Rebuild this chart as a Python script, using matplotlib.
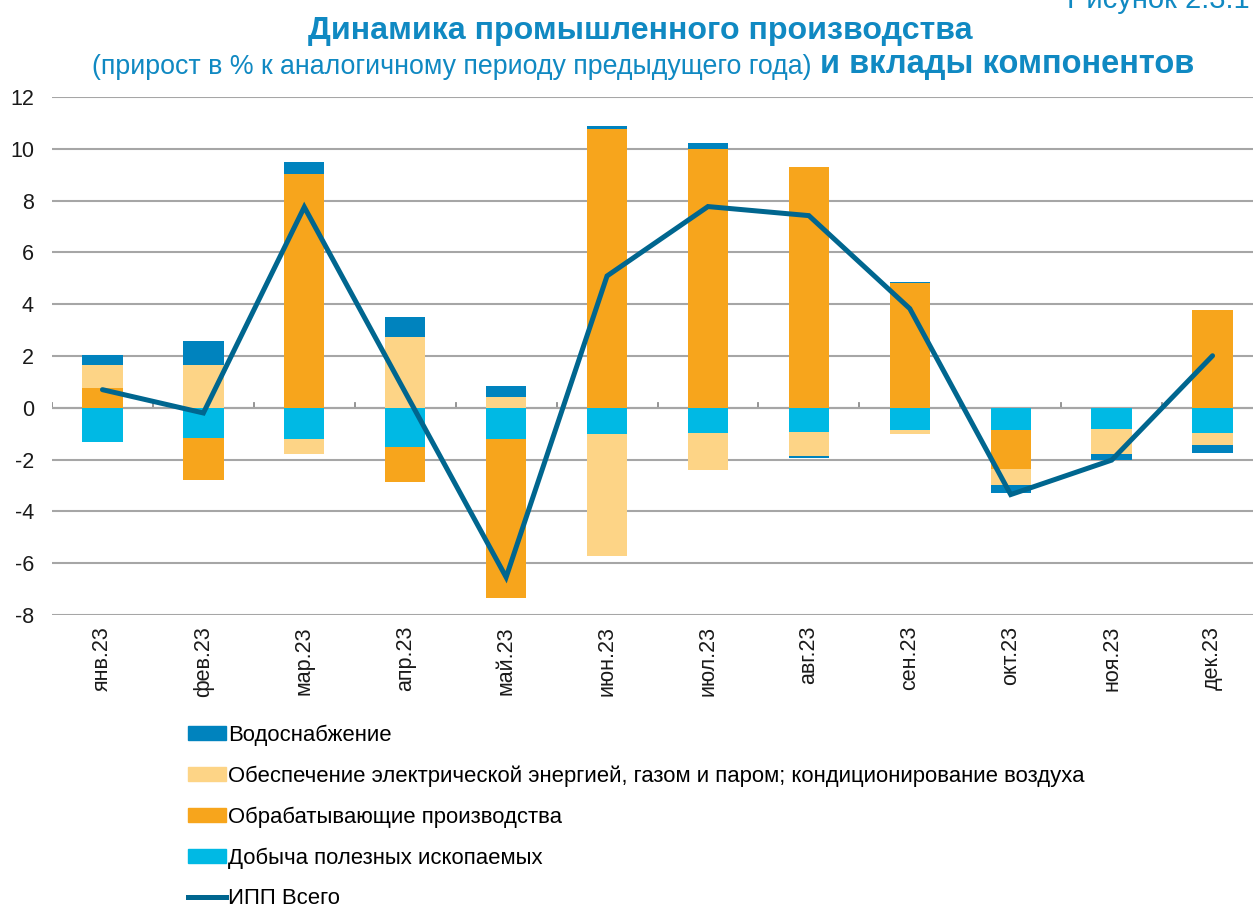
import numpy as np
import matplotlib
matplotlib.use("Agg")
import matplotlib.pyplot as plt
from matplotlib.patches import Patch
from matplotlib.lines import Line2D

plt.rcParams['font.family'] = ['Liberation Sans', 'DejaVu Sans']
plt.rcParams['axes.unicode_minus'] = False

# ===============================
# Data (contributions, p.p.)
# ===============================

months = ['янв.23', 'фев.23', 'мар.23', 'апр.23', 'май.23', 'июн.23',
          'июл.23', 'авг.23', 'сен.23', 'окт.23', 'ноя.23', 'дек.23']

mining = [-1.32, -1.16, -1.22, -1.50, -1.22, -1.02, -0.96, -0.93, -0.86, -0.85, -0.81, -0.96]
manuf = [0.77, -1.63, 9.01, -1.38, -6.12, 10.76, 9.98, 9.28, 4.80, -1.50, 0.0, 3.76]
elec = [0.90, 1.67, -0.57, 2.75, 0.40, -4.72, -1.46, -0.92, -0.16, -0.62, -0.97, -0.46]
water = [0.36, 0.89, 0.48, 0.74, 0.44, 0.11, 0.23, -0.07, 0.04, -0.33, -0.25, -0.33]
ipp_total = [0.70, -0.20, 7.75, 0.60, -6.54, 5.09, 7.77, 7.42, 3.83, -3.35, -2.02, 2.01]

series = [
    ('Добыча полезных ископаемых', mining, '#00B9E4'),
    ('Обрабатывающие производства', manuf, '#F7A51C'),
    ('Обеспечение электрической энергией, газом и паром; кондиционирование воздуха', elec, '#FDD486'),
    ('Водоснабжение', water, '#0083BE'),
]

title_color = '#1089C2'
line_color = '#00668F'

# ===============================
# Plot
# ===============================

fig = plt.figure(figsize=(12.53, 9.07), dpi=100)
ax = fig.add_axes([52 / 1253, 1 - 615 / 907, 1211 / 1253, 518 / 907])

x = np.arange(len(months))
pos_bottom = np.zeros(len(months))
neg_bottom = np.zeros(len(months))

for name, vals, color in series:
    v = np.array(vals)
    bottom = np.where(v >= 0, pos_bottom, neg_bottom)
    ax.bar(x, v, width=0.40, bottom=bottom, color=color, linewidth=0, zorder=2)
    pos_bottom = pos_bottom + np.where(v > 0, v, 0)
    neg_bottom = neg_bottom + np.where(v < 0, v, 0)

ax.plot(x, ipp_total, color=line_color, linewidth=3.6, zorder=4,
        solid_joinstyle='miter', solid_capstyle='round')

ax.set_xlim(-0.5, len(months) - 0.5)
ax.set_ylim(-8, 12)
ax.set_yticks(np.arange(-8, 13, 2))
ax.grid(axis='y', color='#A6A6A6', linewidth=1.5, zorder=0)
ax.axhline(0, color='#8C8C8C', linewidth=1.5, zorder=1)

# small ticks on zero line between categories
for b in np.arange(-0.5, len(months), 1.0):
    ax.plot([b, b], [0, 0.17], color='#8C8C8C', linewidth=1.3, zorder=1)

for s in ax.spines.values():
    s.set_visible(False)

ax.set_xticks(x)
ax.set_xticklabels(months, rotation=90, fontsize=15.5, color='#1A1A1A')
ax.tick_params(axis='x', length=0, pad=8)
ax.tick_params(axis='y', length=0, pad=13, labelsize=15.5, labelcolor='#1A1A1A')

# ===============================
# Titles
# ===============================

fig.text(640 / 1253, 1 - 31 / 907, 'Динамика промышленного производства',
         ha='center', va='center', fontsize=23.1, fontweight='bold', color=title_color)
fig.text(812 / 1253, 1 - 67 / 907, '(прирост в % к аналогичному периоду предыдущего года)',
         ha='right', va='center', fontsize=19.3, color=title_color)
fig.text(820 / 1253, 1 - 65 / 907, 'и вклады компонентов',
         ha='left', va='center', fontsize=23.5, fontweight='bold', color=title_color)
fig.text(1250 / 1253, 1 - 8 / 907, 'Рисунок 2.3.1', ha='right', va='baseline',
         fontsize=21, color=title_color)

# ===============================
# Legend
# ===============================

handles = [Patch(color=c, label=n) for n, _, c in reversed(series)]
handles.append(Line2D([0], [0], color=line_color, linewidth=3.6, label='ИПП Всего'))
fig.legend(handles=handles, loc='upper left', bbox_to_anchor=(179 / 1253, 1 - 716 / 907),
           frameon=False, fontsize=15.9, handlelength=1.72, handleheight=0.58,
           handletextpad=0.1, labelspacing=0.88, borderaxespad=0)

plt.savefig('out.png', dpi=100)
